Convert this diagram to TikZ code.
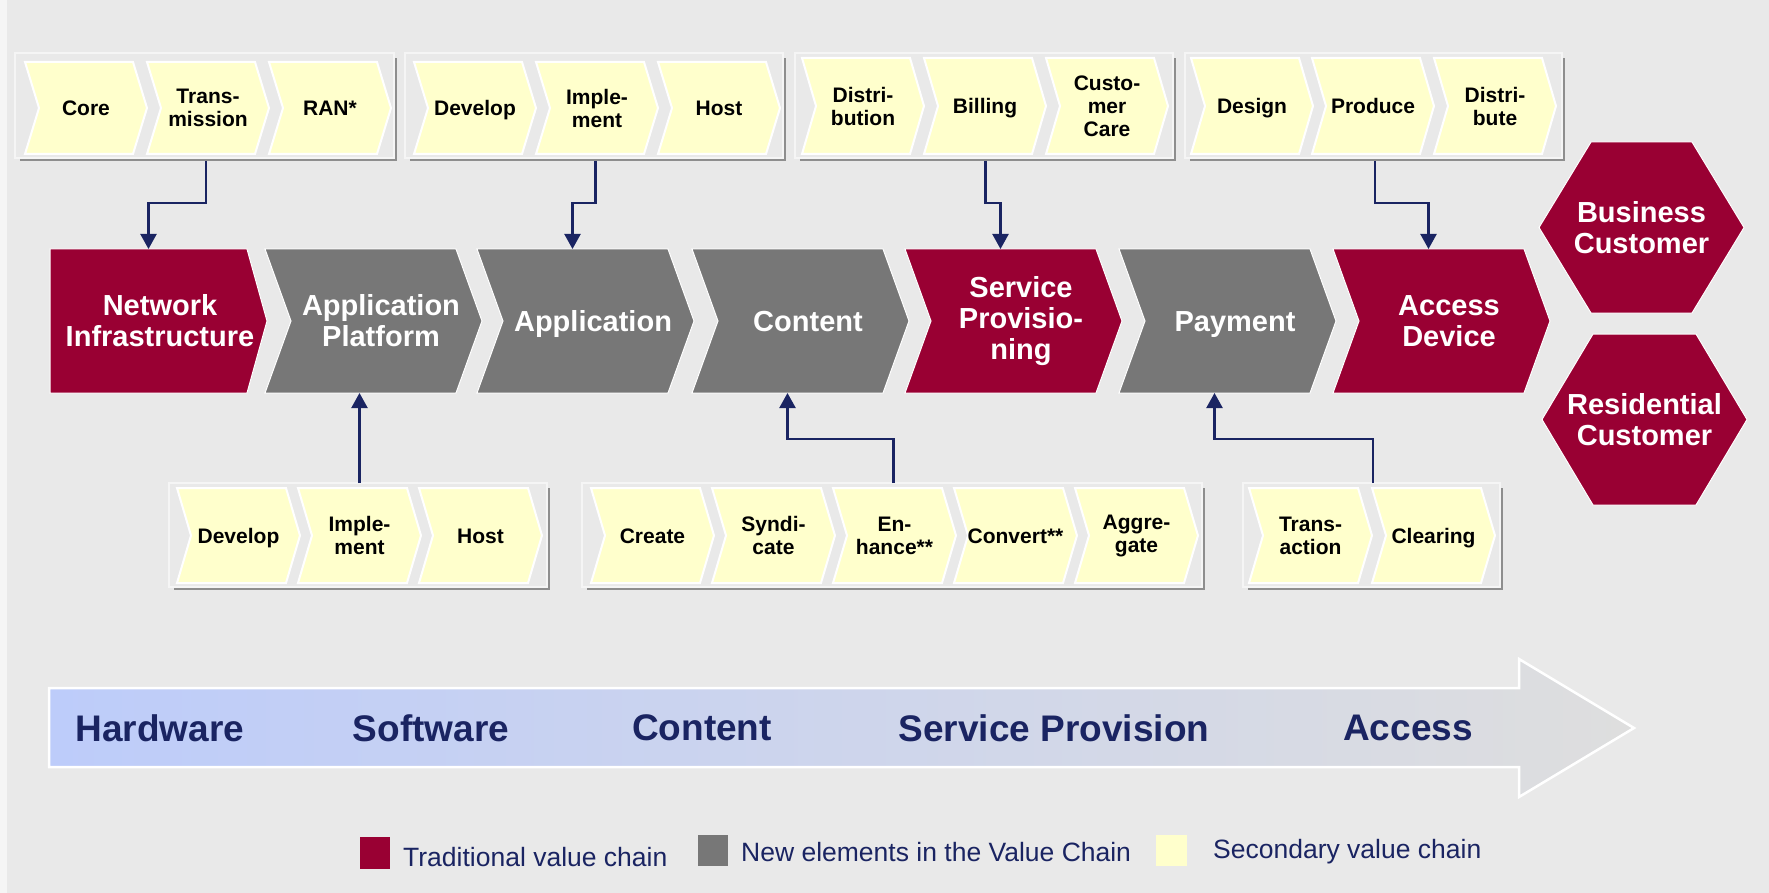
\documentclass[tikz,border=0pt]{standalone}
\usepackage{fontspec}
\setmainfont{Liberation Sans}
\usetikzlibrary{arrows.meta}
\definecolor{bgc}{HTML}{E9E9E9}
\definecolor{crim}{HTML}{990033}
\definecolor{mgray}{HTML}{777777}
\definecolor{yel}{HTML}{FFFFCC}
\definecolor{navy}{HTML}{1A2462}
\definecolor{shad}{HTML}{8E8E8E}
\definecolor{boxedge}{HTML}{F5F5F5}
\definecolor{arL}{RGB}{189,204,250}
\definecolor{arR}{RGB}{222,222,222}

% name, x0, fill, extra node style, text
\newcommand\mainchev[5]{%
  \filldraw[fill=#3, draw=white, line width=1pt] (#2,249) -- ++(191,0) -- ++(26,72) -- ++(-26,72) -- ++(-191,0) -- ++(26,-72) -- cycle;
  \node[maintxt,#4] (#1) at ({#2+116},321) {#5};
  \coordinate (#1-t) at ({#2+95.5},249);
  \coordinate (#1-b) at ({#2+95.5},393);
}
% name, x0, ytop, ybot, width, extra node style, text
\newcommand\secchev[7]{%
  \pgfmathsetmacro\sca{#2+#5-14}\pgfmathsetmacro\scb{#2+#5}\pgfmathsetmacro\scc{#2+14}%
  \pgfmathsetmacro\scm{(#3+#4)/2}\pgfmathsetmacro\scx{#2+#5/2}%
  \filldraw[fill=yel, draw=white, line width=2pt] (#2,#3) -- (\sca,#3) -- (\scb,\scm) -- (\sca,#4) -- (#2,#4) -- (\scc,\scm) -- cycle;
  \node[sectxt,#6] (#1) at (\scx,\scm) {#7};
}
\newcommand\grpbox[5]{%
  \pgfmathsetmacro\gbx{(#2+#4)/2}%
  \fill[shad] ({#2+5},{#3+5}) rectangle (#4,#5);
  \filldraw[fill=bgc, draw=boxedge, line width=1.5pt] (#2,#3) rectangle ({#4-3},{#5-3});
  \coordinate (#1-n) at (\gbx,#3);
  \coordinate (#1-s) at (\gbx,#5);
}

\begin{document}
\begin{tikzpicture}[x=1pt,y=-1pt,
  maintxt/.style={text=white, font=\fontsize{29}{31}\selectfont\bfseries, align=center, inner sep=0pt},
  mone/.style={text height=21pt, text depth=0pt},
  sectxt/.style={text=black, font=\fontsize{21}{23}\selectfont\bfseries, align=center, inner sep=0pt},
  sone/.style={text height=15pt, text depth=0pt},
  bandtxt/.style={text=navy, font=\fontsize{37}{40}\selectfont\bfseries, inner sep=0pt},
  legtxt/.style={text=navy, font=\fontsize{26.5}{29}\selectfont, inner sep=0pt, anchor=west},
  conn/.style={draw=navy, line width=2.2pt, -{Triangle[length=15pt,width=16pt]}}]
\useasboundingbox (0,0) rectangle (1769,893);
\fill[bgc] (0,0) rectangle (1769,893);
\fill[boxedge] (0,0) rectangle (7,893);

% ---------- top secondary chains ----------
\grpbox{g1}{15}{53}{397}{161}
\secchev{core}{25}{62}{154}{122}{sone}{Core}
\secchev{trans}{147}{62}{154}{122}{}{Trans-\\mission}
\secchev{ran}{269}{62}{154}{122}{sone}{RAN*}

\grpbox{g2}{405}{53}{786}{161}
\secchev{dev1}{414}{62}{154}{122}{sone}{Develop}
\secchev{impl1}{536}{62}{154}{122}{}{Imple-\\ment}
\secchev{host1}{658}{62}{154}{122}{sone}{Host}

\grpbox{g3}{795}{53}{1176}{161}
\secchev{distr}{802}{58}{154}{122}{}{Distri-\\bution}
\secchev{bill}{924}{58}{154}{122}{sone}{Billing}
\secchev{care}{1046}{58}{154}{122}{}{Custo-\\mer\\Care}

\grpbox{g4}{1185}{53}{1565}{161}
\secchev{design}{1191}{58}{154}{122}{sone}{Design}
\secchev{produce}{1312}{58}{154}{122}{sone}{Produce}
\secchev{distb}{1434}{58}{154}{122}{}{Distri-\\bute}

% ---------- main chain ----------
\filldraw[fill=crim, draw=white, line width=1pt] (50,249) -- (247,249) -- (267,321) -- (247,393) -- (50,393) -- cycle;
\node[maintxt] (net) at (160,321) {Network\\Infrastructure};
\coordinate (net-t) at (148.5,249);
\mainchev{plat}{265}{mgray}{}{Application\\Platform}
\mainchev{app}{477}{mgray}{mone}{Application}
\mainchev{cont}{692}{mgray}{mone}{Content}
\mainchev{svc}{905}{crim}{}{Service\\Provisio-\\ning}
\mainchev{pay}{1119}{mgray}{mone}{Payment}
\mainchev{acc}{1333}{crim}{}{Access\\Device}

% ---------- customers ----------
\filldraw[fill=crim, draw=white, line width=1pt] (1539,227.5) -- (1591,142) -- (1692,142) -- (1744,227.5) -- (1692,313) -- (1591,313) -- cycle;
\node[maintxt] (bus) at (1641.5,227.5) {Business\\Customer};
\filldraw[fill=crim, draw=white, line width=1pt] (1542,419.5) -- (1593,334) -- (1696,334) -- (1747,419.5) -- (1696,505) -- (1593,505) -- cycle;
\node[maintxt] (res) at (1644.5,419.5) {Residential\\Customer};

% ---------- bottom secondary chains ----------
\grpbox{b1}{169}{483}{550}{590}
\secchev{dev2}{177}{488}{583}{123}{sone}{Develop}
\secchev{impl2}{298}{488}{583}{123}{}{Imple-\\ment}
\secchev{host2}{419}{488}{583}{123}{sone}{Host}

\grpbox{b2}{582}{483}{1205}{590}
\secchev{create}{591}{488}{583}{123}{sone}{Create}
\secchev{synd}{712}{488}{583}{123}{}{Syndi-\\cate}
\secchev{enh}{833}{488}{583}{123}{}{En-\\hance**}
\secchev{conv}{954}{488}{583}{123}{sone}{Convert**}
\secchev{aggr}{1075}{488}{583}{123}{}{Aggre-\\gate}

\grpbox{b3}{1243}{483}{1503}{590}
\secchev{tract}{1249}{488}{583}{123}{}{Trans-\\action}
\secchev{clear}{1372}{488}{583}{123}{sone}{Clearing}

% ---------- connectors ----------
\draw[conn] (g1-s) -- ++(0,42) -| (net-t);
\draw[conn] (g2-s) -- ++(0,42) -| (app-t);
\draw[conn] (g3-s) -- ++(0,42) -| (svc-t);
\draw[conn] (g4-s) -- ++(0,42) -| (acc-t);
\draw[conn] (b1-n) -- (b1-n |- plat-b);
\draw[conn] (b2-n) -- ++(0,-44) -| (cont-b);
\draw[conn] (b3-n) -- ++(0,-44) -| (pay-b);

% ---------- big arrow ----------
\shadedraw[left color=arL, right color=arR, draw=white, line width=2.5pt]
  (49,688) -- (1519,688) -- (1519,659) -- (1634,728) -- (1519,797) -- (1519,767) -- (49,767) -- cycle;
\node[bandtxt] (hw) at (160,728) {Hardware};
\node[bandtxt] (sw) at (431,728) {Software};
\node[bandtxt] (ct) at (702,728) {Content};
\node[bandtxt] (sp) at (1054,728) {Service Provision};
\node[bandtxt] (ac) at (1408,728) {Access};

% ---------- legend ----------
\fill[crim] (360,837) rectangle (390,869);
\node[legtxt] (l1) at (403,857) {Traditional value chain};
\fill[mgray] (698,835) rectangle (728,866);
\node[legtxt] (l2) at (741,852) {New elements in the Value Chain};
\fill[yel] (1156,835) rectangle (1187,866);
\node[legtxt] (l3) at (1213,852) {Secondary value chain};
\end{tikzpicture}
\end{document}
